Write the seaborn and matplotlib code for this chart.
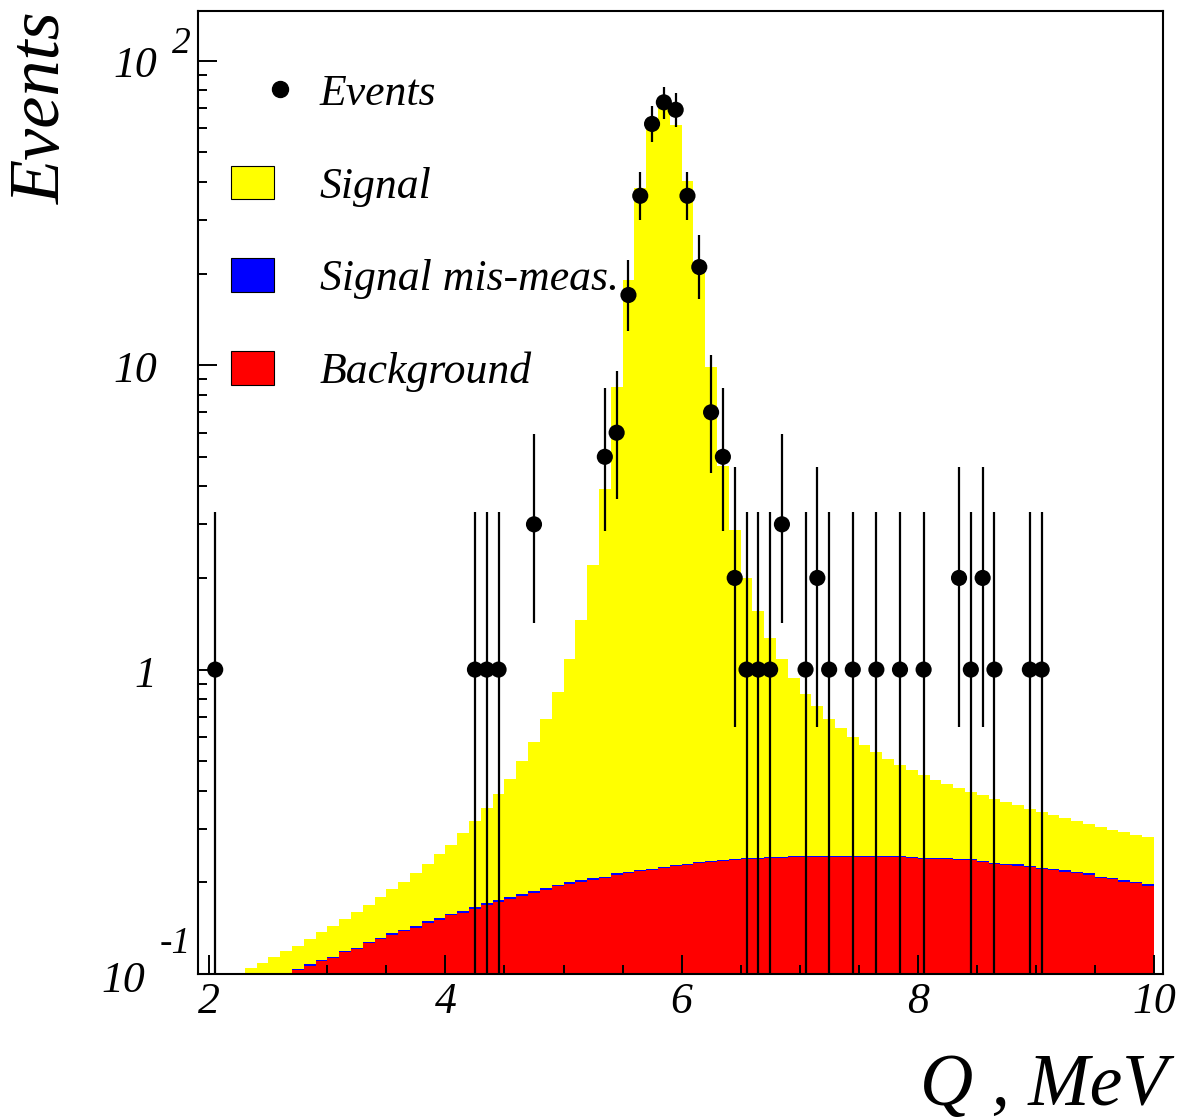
import numpy as np
import pandas as pd
import matplotlib
matplotlib.use("Agg")
import matplotlib.pyplot as plt
import seaborn as sns
from matplotlib.lines import Line2D
from matplotlib.patches import Patch
from matplotlib.legend_handler import HandlerLine2D
from matplotlib.ticker import FixedLocator, NullFormatter

# ---------------- data ----------------
bin_start = 1.9
bin_width = 0.1
n_bins = 81

signal = [0.101, 0.101, 0.101, 0.101, 0.105, 0.109, 0.114, 0.119, 0.0203, 0.0229,
          0.026, 0.030, 0.033, 0.038, 0.042, 0.048, 0.054, 0.061, 0.071, 0.081,
          0.094, 0.108, 0.129, 0.152, 0.179, 0.214, 0.257, 0.316, 0.392, 0.499,
          0.649, 0.881, 1.256, 1.994, 3.711, 8.246, 18.88, 37.98, 59.48, 70.58,
          61.47, 40.17, 21.47, 9.605, 4.413, 2.642, 1.760, 1.314, 1.028, 0.837,
          0.695, 0.589, 0.513, 0.445, 0.397, 0.355, 0.321, 0.290, 0.265, 0.243,
          0.224, 0.208, 0.194, 0.181, 0.169, 0.159, 0.151, 0.144, 0.137, 0.129,
          0.122, 0.117, 0.111, 0.107, 0.102, 0.097, 0.095, 0.091, 0.090, 0.085,
          0.085]

signal_mis = [0, 0, 0, 0, 0, 0, 0, 0, 0.001, 0.001,
              0.001, 0.001, 0.001, 0.001, 0.001, 0.001, 0.002, 0.002, 0.002, 0.002,
              0.002, 0.002, 0.002, 0.002, 0.002, 0.002, 0.002, 0.002, 0.002, 0.002,
              0.002, 0.002, 0.002, 0.002, 0.002, 0.002, 0.002, 0.002, 0.002, 0.002,
              0.002, 0.002, 0.002, 0.002, 0.002, 0.002, 0.002, 0.002, 0.002, 0.002,
              0.002, 0.002, 0.002, 0.002, 0.002, 0.002, 0.002, 0.002, 0.002, 0.002,
              0.002, 0.002, 0.002, 0.002, 0.002, 0.002, 0.002, 0.002, 0.002, 0.002,
              0.002, 0.002, 0.002, 0.002, 0.002, 0.002, 0.002, 0.002, 0.002, 0.002,
              0.002]

background = [0, 0, 0, 0, 0, 0, 0, 0, 0.1027, 0.1066,
              0.110, 0.113, 0.118, 0.121, 0.126, 0.130, 0.134, 0.138, 0.142, 0.147,
              0.151, 0.156, 0.159, 0.164, 0.169, 0.173, 0.177, 0.181, 0.185, 0.189,
              0.194, 0.198, 0.201, 0.204, 0.207, 0.212, 0.215, 0.218, 0.220, 0.223,
              0.226, 0.228, 0.231, 0.233, 0.235, 0.236, 0.238, 0.239, 0.240, 0.241,
              0.242, 0.243, 0.243, 0.243, 0.243, 0.243, 0.243, 0.243, 0.2425, 0.2425,
              0.241, 0.239, 0.239, 0.239, 0.236, 0.236, 0.233, 0.230, 0.228, 0.227,
              0.225, 0.2215, 0.220, 0.217, 0.214, 0.212, 0.207, 0.205, 0.201, 0.199,
              0.195]

events_q = [2.05, 4.25, 4.35, 4.45, 4.75, 5.35, 5.45, 5.55, 5.65, 5.75,
            5.85, 5.95, 6.05, 6.15, 6.25, 6.35, 6.45, 6.55, 6.65, 6.75,
            6.85, 7.05, 7.15, 7.25, 7.45, 7.65, 7.85, 8.05, 8.35, 8.45,
            8.55, 8.65, 8.95, 9.05]
events_n = [1, 1, 1, 1, 3, 5, 6, 17, 36, 62,
            73, 69, 36, 21, 7, 5, 2, 1, 1, 1,
            3, 1, 2, 1, 1, 1, 1, 1, 2, 1,
            2, 1, 1, 1]
# lower / upper ends of the (Poisson) error bars
events_lo = [0.01, 0.01, 0.01, 0.01, 1.42, 2.85, 3.63, 12.9, 30.0, 54.2,
             64.5, 60.7, 30.0, 16.5, 4.42, 2.85, 0.65, 0.01, 0.01, 0.01,
             1.42, 0.01, 0.65, 0.01, 0.01, 0.01, 0.01, 0.01, 0.65, 0.01,
             0.65, 0.01, 0.01, 0.01]
events_hi = [3.30, 3.30, 3.30, 3.30, 5.92, 8.40, 9.60, 22.2, 43.1, 70.9,
             82.0, 78.4, 43.1, 26.7, 10.8, 8.40, 4.64, 3.30, 3.30, 3.30,
             5.92, 3.30, 4.64, 3.30, 3.30, 3.30, 3.30, 3.30, 4.64, 3.30,
             4.64, 3.30, 3.30, 3.30]

components = ["Signal", "Signal mis-meas.", "Background"]
colors = {"Signal": "#ffff00", "Signal mis-meas.": "#0000ff", "Background": "#ff0000"}

# ---------------- build table ----------------
edges = [round(bin_start + bin_width * i, 2) for i in range(n_bins + 1)]
centers = [round(0.5 * (edges[i] + edges[i + 1]), 3) for i in range(n_bins)]
frames = []
for name, vals in zip(components, [signal, signal_mis, background]):
    frames.append(pd.DataFrame({"Q": centers, "w": vals, "comp": name}))
df = pd.concat(frames, ignore_index=True)

# ---------------- figure ----------------
W, H = 1186, 1120
fig = plt.figure(figsize=(W / 100, H / 100), dpi=100)
ax_l, ax_r, ax_t, ax_b = 197.5, 1162.7, 10.7, 974.0
ax = fig.add_axes([ax_l / W, 1 - ax_b / H, (ax_r - ax_l) / W, (ax_b - ax_t) / H])

sns.histplot(data=df, x="Q", weights="w", hue="comp", hue_order=components,
             bins=edges, multiple="stack", element="bars", palette=colors,
             alpha=1, linewidth=0, legend=False, ax=ax, antialiased=False)

ax.set_yscale("log")

ax.vlines(events_q, events_lo, events_hi, colors="black", linewidth=1.6, zorder=5)
sns.scatterplot(x=events_q, y=events_n, color="black", s=135, edgecolor="none",
                ax=ax, zorder=6, legend=False)

ax.set_xlim(1.9, 10.075)
ax.set_ylim(0.1, 146)

# ---------------- axes styling ----------------
for sp in ax.spines.values():
    sp.set_linewidth(1.5)
    sp.set_color("black")

FS = 31.5
tick_font = dict(family="Liberation Serif", style="italic", size=FS)
ax.xaxis.set_major_locator(FixedLocator([2, 4, 6, 8, 10]))
ax.xaxis.set_minor_locator(FixedLocator([3, 3.5, 4.5, 5, 5.5, 6.5, 7, 7.5, 8.5, 9, 9.5]))
ax.set_xticklabels(["2", "4", "6", "8", "10"], fontdict=tick_font)
ax.yaxis.set_major_locator(FixedLocator([0.1, 1, 10, 100]))
ax.yaxis.set_minor_locator(FixedLocator([m * d for d in (0.1, 1, 10) for m in range(2, 10)]))
ax.yaxis.set_major_formatter(NullFormatter())
ax.yaxis.set_minor_formatter(NullFormatter())
ax.tick_params(axis="both", which="both", direction="in", top=False, right=False,
               width=1.4, color="black")
ax.tick_params(axis="both", which="major", length=13.5)
ax.tick_params(axis="both", which="minor", length=6.7)
ax.tick_params(axis="x", which="major", pad=6)
ax.set_xlabel("")
ax.set_ylabel("")

# y tick labels, ROOT style (10 with superscript)
ytr = ax.get_yaxis_transform()
def ylab(val, txt, dx, dy, size=FS):
    ax.annotate(txt, xy=(0, val), xycoords=ytr, xytext=(dx, dy),
                textcoords="offset pixels", ha="right", va="baseline",
                fontfamily="Liberation Serif", fontstyle="italic", fontsize=size,
                annotation_clip=False)

ylab(100, "10", -40, -16)
ylab(100, "2", -7, 8, size=27)
ylab(10, "10", -40, -17)
ylab(1, "1", -41, -17)
ylab(0.1, "10", -52, -18)
ylab(0.1, "-1", -7, 21, size=27)

# axis titles
fig.text(42 / W, 1 - 11 / H, "Events", rotation=90, ha="center", va="top",
         fontfamily="Liberation Serif", fontstyle="italic", fontsize=52)
fig.text(1167 / W, 1 - 1105 / H, "Q , MeV", ha="right", va="baseline",
         fontfamily="Liberation Serif", fontstyle="italic", fontsize=53)

# legend
class RightMarker(HandlerLine2D):
    def get_xdata(self, legend, xdescent, ydescent, width, height, fontsize):
        c = -xdescent + 1.15 * width
        return [c - 1, c + 1], [c]

ev_handle = Line2D([], [], marker="o", color="black", linestyle="none", markersize=11.5)
handles = [ev_handle,
           Patch(facecolor=colors["Signal"], edgecolor="black", linewidth=0.8),
           Patch(facecolor=colors["Signal mis-meas."], edgecolor="black", linewidth=0.8),
           Patch(facecolor=colors["Background"], edgecolor="black", linewidth=0.8)]
labels = ["Events", "Signal", "Signal mis-meas.", "Background"]
fig.legend(handles, labels, loc="upper left", bbox_to_anchor=(231 / W, 1 - 73 / H),
           bbox_transform=fig.transFigure, frameon=False, borderpad=0, borderaxespad=0,
           handlelength=0.977, handleheight=0.81, handletextpad=1.05, labelspacing=1.18,
           handler_map={ev_handle: RightMarker(numpoints=1)},
           prop=dict(family="Liberation Serif", style="italic", size=FS))

fig.savefig("out.png", dpi=100)
